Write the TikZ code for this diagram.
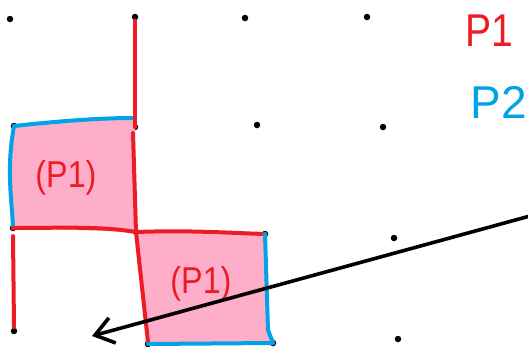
\documentclass[tikz,border=0pt]{standalone}
\usepackage{fontspec}
\usetikzlibrary{arrows.meta}
\setmainfont{Liberation Sans}
\definecolor{pred}{HTML}{ED1C24}
\definecolor{pblue}{HTML}{00A2E8}
\definecolor{ppink}{HTML}{FFAEC9}
\begin{document}
\begin{tikzpicture}[x=1pt,y=-1pt,
  redline/.style={draw=pred,line width=4pt,line cap=round,line join=round},
  blueline/.style={draw=pblue,line width=4pt,line cap=round,line join=round},
  dot/.style={circle,fill=black,inner sep=0pt,minimum size=6.5pt},
  lab/.style={text=pred,font=\fontsize{34}{34}\selectfont,yscale=1.1,xscale=0.95}]
\useasboundingbox (0,0) rectangle (528,346);
% grid points
\node[dot] (a1) at (10,19) {};
\node[dot] (a2) at (135,17) {};
\node[dot] (a3) at (245,18) {};
\node[dot] (a4) at (367,17) {};
\node[dot] (b1) at (14,126) {};
\node[dot] (b2) at (135,127) {};
\node[dot] (b3) at (257,125) {};
\node[dot] (b4) at (383,127) {};
\node[dot] (c1) at (13,228) {};
\node[dot] (c2) at (136,232) {};
\node[dot] (c3) at (265,234) {};
\node[dot] (c4) at (394,238) {};
\node[dot] (d1) at (14,331) {};
\node[dot] (d2) at (148,344) {};
\node[dot] (d3) at (273,343) {};
\node[dot] (d4) at (398,339) {};
% shaded cells
\fill[ppink] (b1.center) .. controls (60,121) and (100,118) .. (133,118) -- (b2.center) -- (c2.center) -- (c1.center) .. controls (12,200) and (6,170) .. (b1.center);
\fill[ppink] (c2.center) .. controls (190,230) and (230,233) .. (c3.center) -- (268,330) -- (d3.center) -- (d2.center) -- (c2.center);
% first cell borders
\draw[blueline] (b1.center) .. controls (60,121) and (100,118) .. (133,118);
\draw[blueline] (b1.center) .. controls (6,170) and (12,200) .. (c1.center);
\draw[redline] (a2.south) -- (b2.center);
\draw[redline] (133,133) -- (c2.center);
\draw[redline] (c1.center) .. controls (60,228) and (100,226) .. (c2.center);
\draw[redline] (13,236) -- (14,327);
% second cell borders
\draw[redline] (c2.center) .. controls (190,230) and (230,233) .. (c3.center);
\draw[redline] (c2.center) -- (148,342);
\draw[blueline] (c3.center) -- (268,330) -- (d3.center);
\draw[blueline] (d2.center) -- (d3.center);
\node[lab] (l1) at (66,178) {(P1)};
\node[lab] (l2) at (201,284) {(P1)};
% legend
\node[text=pred,font=\fontsize{46}{46}\selectfont,anchor=west,xscale=0.85] (k1) at (462,31) {P1};
\node[text=pblue,font=\fontsize{46}{46}\selectfont,anchor=west] (k2) at (467,102) {P2};
% pointer
\coordinate (s) at (530,216);
\coordinate (t) at (92,336);
\draw[line width=3.6pt,line cap=round,-{Straight Barb[length=18pt,width=26pt,line width=3.6pt]}] (s) -- (t);
\end{tikzpicture}
\end{document}
